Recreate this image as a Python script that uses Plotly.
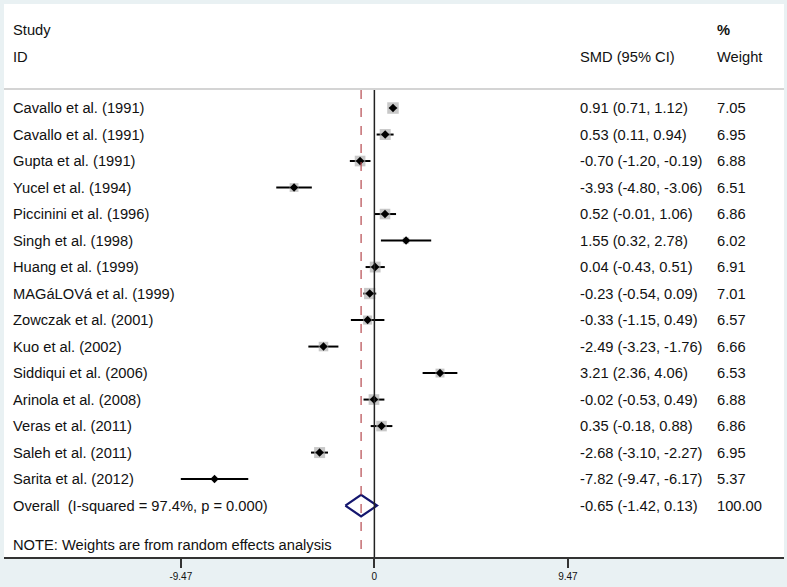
import plotly.graph_objects as go

studies = ["Cavallo et al. (1991)", "Cavallo et al. (1991)", "Gupta et al. (1991)",
           "Yucel et al. (1994)", "Piccinini et al. (1996)", "Singh et al. (1998)",
           "Huang et al. (1999)", "MAGáLOVá et al. (1999)", "Zowczak et al. (2001)",
           "Kuo et al. (2002)", "Siddiqui et al. (2006)", "Arinola et al. (2008)",
           "Veras et al. (2011)", "Saleh et al. (2011)", "Sarita et al. (2012)"]
smd = [0.91, 0.53, -0.70, -3.93, 0.52, 1.55, 0.04, -0.23, -0.33, -2.49, 3.21, -0.02, 0.35, -2.68, -7.82]
lo = [0.71, 0.11, -1.20, -4.80, -0.01, 0.32, -0.43, -0.54, -1.15, -3.23, 2.36, -0.53, -0.18, -3.10, -9.47]
hi = [1.12, 0.94, -0.19, -3.06, 1.06, 2.78, 0.51, 0.09, 0.49, -1.76, 4.06, 0.49, 0.88, -2.27, -6.17]
weights = [7.05, 6.95, 6.88, 6.51, 6.86, 6.02, 6.91, 7.01, 6.57, 6.66, 6.53, 6.88, 6.86, 6.95, 5.37]

overall_label = "Overall  (I-squared = 97.4%, p = 0.000)"
overall_smd, overall_lo, overall_hi, overall_w = -0.65, -1.42, 0.13, 100.00
note = "NOTE: Weights are from random effects analysis"
tick_vals = [-9.47, 0, 9.47]
tick_text = ["-9.47", "0", "9.47"]

n = len(studies)
rows = list(range(n))
overall_row = n
note_row = n + 1.5
y_top, y_bot = -3.925, 16.94
hdr_line = -0.72

FONT = "Liberation Sans, Arial, sans-serif"
TXT = "#111111"
FS = 14.7

fig = go.Figure()

# CI lines
cx, cy = [], []
for r, a, b in zip(rows, lo, hi):
    cx += [a, b, None]
    cy += [r, r, None]
fig.add_trace(go.Scatter(x=cx, y=cy, mode="lines", line=dict(color="black", width=2),
                         hoverinfo="skip", showlegend=False))

# weight boxes
box_sizes = [max(1.0, 11.5 - (7.05 - w) * 5) for w in weights]
fig.add_trace(go.Scatter(x=smd, y=rows, mode="markers",
                         marker=dict(symbol="square", size=box_sizes, color="#b0b0b0",
                                     line=dict(width=0)),
                         showlegend=False, hoverinfo="skip"))
# point estimates
fig.add_trace(go.Scatter(x=smd, y=rows, mode="markers",
                         marker=dict(symbol="diamond", size=6.5, color="black"),
                         showlegend=False))

# overall diamond
h = 0.41
fig.add_trace(go.Scatter(x=[overall_lo, overall_smd, overall_hi, overall_smd, overall_lo],
                         y=[overall_row, overall_row - h, overall_row, overall_row + h, overall_row],
                         mode="lines", line=dict(color="#14166e", width=2.2),
                         showlegend=False, hoverinfo="skip"))

shapes = [
    dict(type="line", xref="paper", yref="y", x0=0, x1=1, y0=hdr_line, y1=hdr_line,
         line=dict(color="#d4d4d4", width=2)),
    dict(type="line", xref="x", yref="y", x0=0, x1=0, y0=hdr_line + 0.04, y1=y_bot,
         line=dict(color="#222222", width=1.5)),
    dict(type="line", xref="x", yref="y", x0=overall_smd, x1=overall_smd, y0=hdr_line + 0.04, y1=y_bot,
         line=dict(color="#b5484e", width=1.2, dash="dash")),
]

x_lab, x_smd, x_w = -17.78, 9.96, 16.67
ann = []
def t(x, y, s, bold=False):
    ann.append(dict(x=x, y=y, xref="x", yref="y", text=("<b>%s</b>" % s) if bold else s,
                    showarrow=False, xanchor="left", yanchor="middle",
                    font=dict(family=FONT, size=FS, color=TXT)))

t(x_lab, -2.94, "Study")
t(x_lab, -1.92, "ID")
t(x_smd, -1.92, "SMD (95% CI)")
t(x_w, -2.94, "%", bold=True)
t(x_w, -1.92, "Weight")
for r, s, m, a, b, w in zip(rows, studies, smd, lo, hi, weights):
    t(x_lab, r, s)
    t(x_smd, r, "%.2f (%.2f, %.2f)" % (m, a, b))
    t(x_w, r, "%.2f" % w)
t(x_lab, overall_row, overall_label)
t(x_smd, overall_row, "%.2f (%.2f, %.2f)" % (overall_smd, overall_lo, overall_hi))
t(x_w, overall_row, "%.2f" % overall_w)
t(x_lab, note_row, note)

fig.update_layout(
    width=787, height=587,
    margin=dict(l=4, r=3, t=4, b=30),
    paper_bgcolor="#e9f1f3", plot_bgcolor="white",
    shapes=shapes, annotations=ann, showlegend=False,
    xaxis=dict(range=[-18.12, 20.04], tickvals=tick_vals, ticktext=tick_text,
               ticks="outside", ticklen=9, tickwidth=1.5, tickcolor="#333333",
               showline=True, linecolor="#333333", linewidth=2, mirror=False,
               showgrid=False, zeroline=False,
               tickfont=dict(family=FONT, size=10, color=TXT)),
    yaxis=dict(range=[y_bot, y_top], visible=False, showgrid=False, zeroline=False),
)

fig.write_html("out.html", config={"displayModeBar": False},
               post_script="document.body.style.margin='0';document.body.style.overflow='hidden';")
